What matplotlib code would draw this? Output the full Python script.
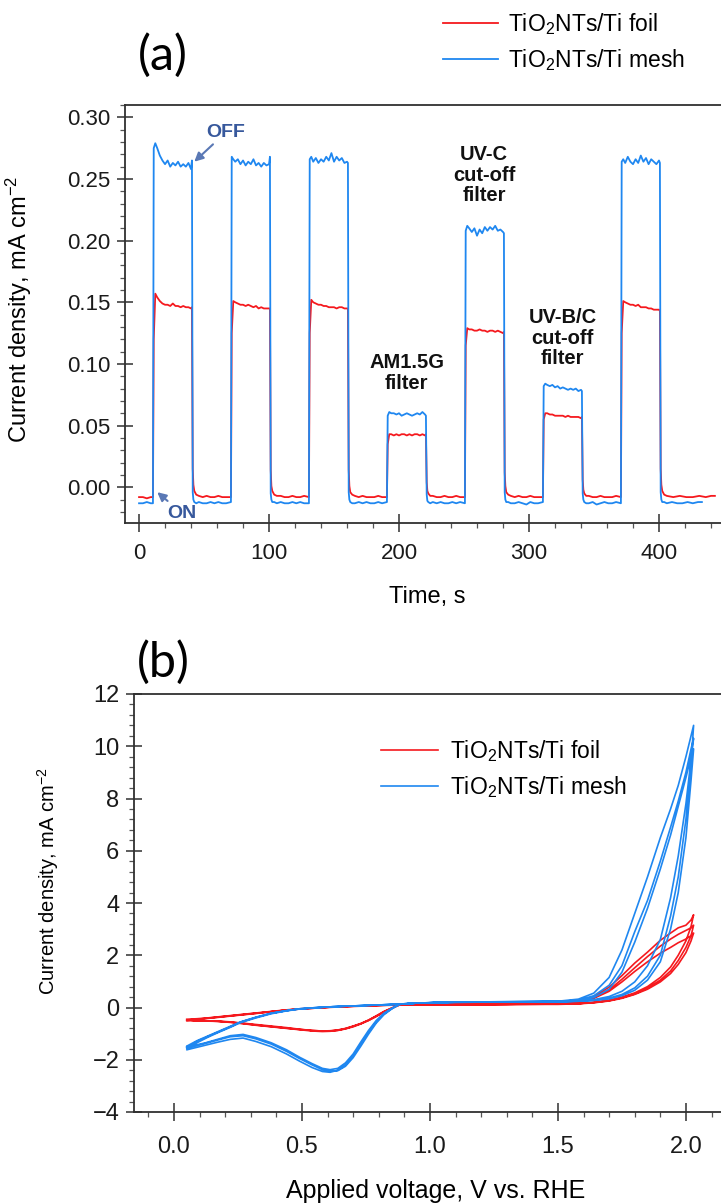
import matplotlib
matplotlib.use('Agg')
import matplotlib.pyplot as plt
from matplotlib.ticker import MultipleLocator, FormatStrFormatter

plt.rcParams['font.family'] = ['Liberation Sans', 'DejaVu Sans']
plt.rcParams['mathtext.fontset'] = 'custom'
plt.rcParams['mathtext.rm'] = 'Liberation Sans'
plt.rcParams['mathtext.it'] = 'Liberation Sans:italic'

RED = '#f5191e'
BLUE = '#1f87f0'
NOTE = '#37589c'
SPINE = '#303030'
LABEL_FOIL = r'TiO$_2$NTs/Ti foil'
LABEL_MESH = r'TiO$_2$NTs/Ti mesh'

# ---- (a) chopped-light photocurrent ----
PULSE_ON = [11, 71, 131, 191, 251, 311, 371]
PULSE_OFF = [41, 101, 161, 221, 281, 341, 401]
PLATEAU_DT = [0.3, 1.5, 3, 5, 7, 9, 11, 13, 15, 17, 19, 21, 23, 25, 27, 29, 29.7]
DARK_DT = [0.3, 0.8, 1.5, 3, 5, 8, 11, 14, 17, 20, 23, 26, 29.7]

pre_t = [0, 3, 6, 9, 10.7]
mesh_pre = [-0.013, -0.013, -0.012, -0.013, -0.013]
foil_pre = [-0.008, -0.008, -0.009, -0.008, -0.008]

mesh_on = [
    [0.275, 0.279, 0.275, 0.269, 0.265, 0.262, 0.265, 0.260, 0.263, 0.261, 0.264, 0.260, 0.262, 0.260, 0.263, 0.258, 0.265],
    [0.268, 0.266, 0.264, 0.266, 0.262, 0.265, 0.261, 0.264, 0.262, 0.266, 0.261, 0.263, 0.260, 0.263, 0.261, 0.262, 0.268],
    [0.266, 0.268, 0.264, 0.267, 0.263, 0.266, 0.264, 0.268, 0.265, 0.271, 0.264, 0.268, 0.265, 0.267, 0.263, 0.264, 0.263],
    [0.058, 0.061, 0.060, 0.060, 0.059, 0.060, 0.058, 0.059, 0.060, 0.059, 0.058, 0.059, 0.060, 0.059, 0.061, 0.059, 0.058],
    [0.208, 0.212, 0.210, 0.207, 0.210, 0.204, 0.209, 0.206, 0.211, 0.208, 0.211, 0.209, 0.212, 0.208, 0.209, 0.207, 0.206],
    [0.082, 0.084, 0.083, 0.082, 0.083, 0.081, 0.082, 0.080, 0.081, 0.080, 0.079, 0.080, 0.079, 0.080, 0.078, 0.079, 0.078],
    [0.264, 0.266, 0.263, 0.268, 0.264, 0.262, 0.266, 0.263, 0.269, 0.264, 0.267, 0.262, 0.266, 0.264, 0.262, 0.265, 0.263],
]
foil_on = [
    [0.120, 0.157, 0.154, 0.151, 0.149, 0.148, 0.148, 0.147, 0.149, 0.147, 0.147, 0.146, 0.147, 0.146, 0.146, 0.145, 0.146],
    [0.125, 0.151, 0.150, 0.149, 0.148, 0.148, 0.147, 0.148, 0.147, 0.146, 0.147, 0.145, 0.146, 0.145, 0.145, 0.145, 0.145],
    [0.125, 0.152, 0.150, 0.149, 0.148, 0.148, 0.147, 0.147, 0.146, 0.146, 0.146, 0.145, 0.146, 0.146, 0.145, 0.145, 0.145],
    [0.035, 0.043, 0.043, 0.042, 0.043, 0.042, 0.043, 0.043, 0.042, 0.043, 0.042, 0.043, 0.043, 0.042, 0.043, 0.042, 0.043],
    [0.115, 0.129, 0.128, 0.128, 0.127, 0.127, 0.128, 0.127, 0.127, 0.126, 0.127, 0.127, 0.126, 0.127, 0.126, 0.125, 0.126],
    [0.055, 0.060, 0.060, 0.059, 0.059, 0.058, 0.058, 0.058, 0.058, 0.057, 0.058, 0.057, 0.057, 0.057, 0.057, 0.056, 0.057],
    [0.125, 0.151, 0.150, 0.149, 0.148, 0.148, 0.147, 0.148, 0.146, 0.146, 0.146, 0.145, 0.145, 0.144, 0.144, 0.144, 0.143],
]
mesh_dark = [
    [-0.004, -0.010, -0.012, -0.013, -0.012, -0.013, -0.013, -0.012, -0.013, -0.012, -0.013, -0.013, -0.012],
    [-0.005, -0.010, -0.012, -0.012, -0.013, -0.012, -0.013, -0.013, -0.012, -0.013, -0.012, -0.013, -0.013],
    [-0.004, -0.010, -0.012, -0.013, -0.013, -0.012, -0.013, -0.012, -0.013, -0.013, -0.012, -0.013, -0.012],
    [-0.006, -0.011, -0.012, -0.013, -0.012, -0.013, -0.012, -0.013, -0.013, -0.012, -0.013, -0.012, -0.013],
    [-0.004, -0.010, -0.012, -0.012, -0.013, -0.013, -0.012, -0.013, -0.014, -0.012, -0.013, -0.013, -0.012],
    [-0.005, -0.010, -0.012, -0.013, -0.013, -0.012, -0.014, -0.013, -0.012, -0.013, -0.013, -0.012, -0.013],
]
foil_dark = [
    [0.015, 0.002, -0.003, -0.006, -0.007, -0.008, -0.007, -0.008, -0.008, -0.007, -0.008, -0.008, -0.008],
    [0.014, 0.001, -0.003, -0.006, -0.007, -0.007, -0.008, -0.008, -0.007, -0.008, -0.008, -0.007, -0.008],
    [0.014, 0.001, -0.004, -0.006, -0.007, -0.008, -0.007, -0.008, -0.008, -0.008, -0.007, -0.008, -0.008],
    [0.004, -0.003, -0.005, -0.007, -0.007, -0.008, -0.008, -0.007, -0.008, -0.008, -0.007, -0.008, -0.008],
    [0.012, 0.001, -0.004, -0.006, -0.007, -0.008, -0.007, -0.008, -0.008, -0.007, -0.008, -0.008, -0.008],
    [0.006, -0.002, -0.005, -0.007, -0.007, -0.008, -0.008, -0.007, -0.008, -0.008, -0.008, -0.007, -0.008],
]
mesh_tail_dt = [0.3, 0.8, 1.5, 3, 5, 9, 13, 17, 21, 25, 29, 32]
mesh_tail = [-0.004, -0.010, -0.012, -0.012, -0.013, -0.012, -0.013, -0.013, -0.012, -0.013, -0.012, -0.012]
foil_tail_dt = [0.3, 0.8, 1.5, 3, 5, 10, 15, 20, 25, 30, 35, 39, 42]
foil_tail = [0.015, 0.002, -0.003, -0.006, -0.007, -0.008, -0.007, -0.008, -0.008, -0.007, -0.008, -0.007, -0.007]

# ---- (b) CV loops (3 cycles each) ----
cv_v_fwd = [0.05, 0.09, 0.13, 0.17, 0.22, 0.26, 0.32, 0.38, 0.44, 0.49, 0.56, 0.62, 0.70, 0.78, 0.86, 0.95,
            1.10, 1.30, 1.50, 1.58, 1.64, 1.70, 1.75, 1.80, 1.85, 1.90, 1.94, 1.97, 2.00, 2.02, 2.03]
cv_v_rev = [2.03, 2.02, 2.00, 1.97, 1.94, 1.90, 1.85, 1.80, 1.75, 1.70, 1.64, 1.58, 1.50, 1.30, 1.10, 0.95,
            0.88, 0.85, 0.82, 0.79, 0.76, 0.73, 0.70, 0.67, 0.64, 0.61, 0.58, 0.54, 0.49, 0.44, 0.38, 0.32,
            0.27, 0.22, 0.17, 0.12, 0.08, 0.05]

foil_fwd = [
    [-0.45, -0.43, -0.40, -0.36, -0.31, -0.27, -0.21, -0.15, -0.09, -0.05, -0.01, 0.02, 0.05, 0.08, 0.10, 0.11,
     0.12, 0.12, 0.13, 0.15, 0.20, 0.28, 0.40, 0.56, 0.80, 1.15, 1.55, 2.00, 2.55, 3.10, 3.55],
    [-0.48, -0.45, -0.41, -0.37, -0.32, -0.28, -0.22, -0.16, -0.10, -0.06, -0.02, 0.02, 0.05, 0.07, 0.10, 0.11,
     0.11, 0.12, 0.13, 0.15, 0.19, 0.26, 0.37, 0.52, 0.74, 1.05, 1.40, 1.80, 2.30, 2.75, 3.15],
    [-0.50, -0.46, -0.42, -0.38, -0.33, -0.29, -0.23, -0.16, -0.10, -0.06, -0.02, 0.01, 0.04, 0.07, 0.09, 0.10,
     0.11, 0.12, 0.12, 0.14, 0.18, 0.25, 0.35, 0.50, 0.70, 0.98, 1.30, 1.65, 2.10, 2.55, 2.85],
]
foil_rev = [
    [3.55, 3.35, 3.15, 3.05, 2.85, 2.57, 2.12, 1.70, 1.22, 0.78, 0.42, 0.25, 0.17, 0.13, 0.12, 0.11,
     0.10, -0.02, -0.15, -0.32, -0.48, -0.61, -0.71, -0.80, -0.86, -0.89, -0.90, -0.88, -0.84, -0.79, -0.73, -0.67,
     -0.61, -0.56, -0.53, -0.51, -0.50, -0.47],
    [3.15, 3.05, 2.95, 2.80, 2.62, 2.35, 1.95, 1.52, 1.08, 0.68, 0.38, 0.23, 0.16, 0.13, 0.12, 0.11,
     0.10, -0.03, -0.17, -0.33, -0.49, -0.62, -0.72, -0.81, -0.87, -0.90, -0.90, -0.88, -0.83, -0.77, -0.71, -0.65,
     -0.60, -0.55, -0.52, -0.51, -0.49, -0.48],
    [2.85, 2.75, 2.62, 2.48, 2.30, 2.08, 1.75, 1.38, 0.98, 0.62, 0.35, 0.22, 0.16, 0.12, 0.11, 0.10,
     0.09, -0.04, -0.18, -0.35, -0.50, -0.63, -0.74, -0.82, -0.88, -0.91, -0.92, -0.90, -0.85, -0.80, -0.74, -0.68,
     -0.62, -0.57, -0.53, -0.52, -0.51, -0.50],
]
mesh_fwd = [
    [-1.55, -1.30, -1.12, -0.95, -0.74, -0.56, -0.38, -0.22, -0.12, -0.05, 0.00, 0.03, 0.06, 0.09, 0.12, 0.17,
     0.20, 0.21, 0.22, 0.24, 0.28, 0.36, 0.50, 0.75, 1.20, 2.00, 3.50, 5.00, 7.20, 9.30, 10.80],
    [-1.62, -1.35, -1.15, -0.97, -0.76, -0.58, -0.40, -0.24, -0.13, -0.06, -0.01, 0.03, 0.06, 0.09, 0.12, 0.17,
     0.20, 0.21, 0.22, 0.25, 0.30, 0.42, 0.62, 0.98, 1.60, 2.60, 4.20, 5.80, 7.80, 9.50, 10.30],
    [-1.48, -1.27, -1.10, -0.93, -0.72, -0.55, -0.37, -0.22, -0.12, -0.05, 0.00, 0.03, 0.06, 0.09, 0.12, 0.17,
     0.20, 0.21, 0.22, 0.24, 0.27, 0.33, 0.45, 0.66, 1.05, 1.75, 3.00, 4.40, 6.50, 8.70, 9.90],
]
mesh_rev = [
    [10.80, 10.40, 9.60, 8.50, 7.60, 6.50, 5.00, 3.60, 2.20, 1.15, 0.55, 0.32, 0.24, 0.22, 0.21, 0.17,
     0.12, -0.05, -0.25, -0.55, -0.95, -1.40, -1.85, -2.20, -2.40, -2.48, -2.45, -2.30, -2.05, -1.78, -1.50, -1.30,
     -1.17, -1.22, -1.33, -1.45, -1.55, -1.62],
    [10.30, 9.90, 9.00, 7.90, 6.90, 5.60, 4.10, 2.90, 1.60, 0.85, 0.45, 0.28, 0.23, 0.22, 0.21, 0.17,
     0.12, -0.06, -0.28, -0.60, -1.02, -1.48, -1.92, -2.25, -2.42, -2.44, -2.38, -2.20, -1.95, -1.68, -1.40, -1.20,
     -1.08, -1.12, -1.25, -1.38, -1.48, -1.55],
    [9.90, 9.60, 8.80, 7.70, 6.60, 5.30, 3.80, 2.50, 1.35, 0.70, 0.38, 0.26, 0.23, 0.22, 0.21, 0.17,
     0.12, -0.04, -0.22, -0.50, -0.88, -1.32, -1.78, -2.12, -2.33, -2.38, -2.33, -2.15, -1.90, -1.62, -1.35, -1.15,
     -1.03, -1.08, -1.22, -1.36, -1.45, -1.50],
]


def chopped_trace(pre_j, on_j, dark_j, tail_dt, tail_j):
    t, j = list(pre_t), list(pre_j)
    for k, (t_on, t_off) in enumerate(zip(PULSE_ON, PULSE_OFF)):
        t += [t_on + d for d in PLATEAU_DT]
        j += on_j[k]
        if k < len(dark_j):
            t += [t_off + d for d in DARK_DT]
            j += dark_j[k]
        else:
            t += [t_off + d for d in tail_dt]
            j += tail_j
    return t, j


def cv_trace(fwd, rev):
    v, j = [], []
    for jf, jr in zip(fwd, rev):
        v += cv_v_fwd + cv_v_rev
        j += jf + jr
    return v, j


def style_axes(ax, fs):
    ax.spines['right'].set_visible(False)
    for s in ('left', 'bottom', 'top'):
        ax.spines[s].set_color(SPINE)
        ax.spines[s].set_linewidth(1.3)
    ax.tick_params(which='major', direction='inout', length=11, width=1.1,
                   colors=SPINE, labelsize=fs, labelcolor='#1a1a1a')
    ax.tick_params(which='minor', direction='out', length=3.5, width=0.9, colors='#555555')
    ax.tick_params(axis='x', which='major', length=13, pad=8)
    ax.tick_params(axis='y', which='major', pad=5)


W, H = 721, 1203
fig = plt.figure(figsize=(W / 100, H / 100), dpi=100)

# ---------------- panel (a) ----------------
ax = fig.add_axes([125 / W, 1 - 523 / H, (W - 125) / W, (523 - 105) / H])
t_f, j_f = chopped_trace(foil_pre, foil_on, foil_dark, foil_tail_dt, foil_tail)
t_m, j_m = chopped_trace(mesh_pre, mesh_on, mesh_dark, mesh_tail_dt, mesh_tail)
ax.plot(t_f, j_f, color=RED, lw=1.3, label=LABEL_FOIL)
ax.plot(t_m, j_m, color=BLUE, lw=1.3, label=LABEL_MESH)
ax.set_xlim(-10.8, 447.7)
ax.set_ylim(-0.029, 0.310)
ax.xaxis.set_major_locator(MultipleLocator(100))
ax.xaxis.set_minor_locator(MultipleLocator(20))
ax.yaxis.set_major_locator(MultipleLocator(0.05))
ax.yaxis.set_minor_locator(MultipleLocator(0.01))
ax.yaxis.set_major_formatter(FormatStrFormatter('%.2f'))
style_axes(ax, 16)
ax.set_xlabel('Time, s', fontsize=17)
ax.xaxis.set_label_coords(0.507, -0.15)
ax.set_ylabel('Current density, mA cm$^{-2}$', fontsize=17)
ax.yaxis.set_label_coords(-0.152, 0.51)

bold = dict(fontsize=14.5, fontweight='bold', ha='center', va='center', color='#111111', linespacing=1.1)
ax.text(206, 0.0925, 'AM1.5G\nfilter', **bold)
ax.text(265.5, 0.253, 'UV-C\ncut-off\nfilter', **bold)
ax.text(326, 0.121, 'UV-B/C\ncut-off\nfilter', **bold)
arrow = dict(arrowstyle='-|>', color='#5a78b5', lw=1.5, mutation_scale=13, shrinkA=1, shrinkB=0)
ax.annotate('OFF', xy=(42.5, 0.264), xytext=(67, 0.288), color=NOTE, fontsize=14,
            fontweight='bold', ha='center', va='center', arrowprops=arrow)
ax.annotate('ON', xy=(14, -0.004), xytext=(33, -0.021), color=NOTE, fontsize=14,
            fontweight='bold', ha='center', va='center', arrowprops=arrow)

fig.legend(loc='upper left', bbox_to_anchor=(443 / W, 1 - 11 / H), frameon=False,
           fontsize=16.5, handlelength=2.4, handletextpad=0.45, labelspacing=0.45,
           borderpad=0, borderaxespad=0)
fig.text(163 / W, 1 - 55 / H, '(a)', fontsize=35, family=['Lato', 'DejaVu Sans'],
         ha='center', va='center')

# ---------------- panel (b) ----------------
bx = fig.add_axes([134 / W, 1 - 1112 / H, (W - 134) / W, (1112 - 694) / H])
v_f, c_f = cv_trace(foil_fwd, foil_rev)
v_m, c_m = cv_trace(mesh_fwd, mesh_rev)
bx.plot(v_f, c_f, color=RED, lw=1.2, label=LABEL_FOIL)
bx.plot(v_m, c_m, color=BLUE, lw=1.2, label=LABEL_MESH)
bx.set_xlim(-0.156, 2.137)
bx.set_ylim(-4, 12)
bx.xaxis.set_major_locator(MultipleLocator(0.5))
bx.xaxis.set_minor_locator(MultipleLocator(0.1))
bx.xaxis.set_major_formatter(FormatStrFormatter('%.1f'))
bx.yaxis.set_major_locator(MultipleLocator(2))
bx.yaxis.set_minor_locator(MultipleLocator(0.4))
style_axes(bx, 17)
bx.tick_params(axis='x', which='major', pad=11)
bx.set_xlabel('Applied voltage, V vs. RHE', fontsize=18)
bx.xaxis.set_label_coords(0.513, -0.16)
bx.set_ylabel('Current density, mA cm$^{-2}$', fontsize=14.5)
bx.yaxis.set_label_coords(-0.125, 0.553)
bx.legend(loc='upper left', bbox_to_anchor=(0.42, 0.895), frameon=False,
          fontsize=16.5, handlelength=2.5, handletextpad=0.55, labelspacing=0.45,
          borderpad=0, borderaxespad=0)
fig.text(163 / W, 1 - 662 / H, '(b)', fontsize=35, family=['Lato', 'DejaVu Sans'],
         ha='center', va='center')

fig.savefig('out.png', dpi=100)
